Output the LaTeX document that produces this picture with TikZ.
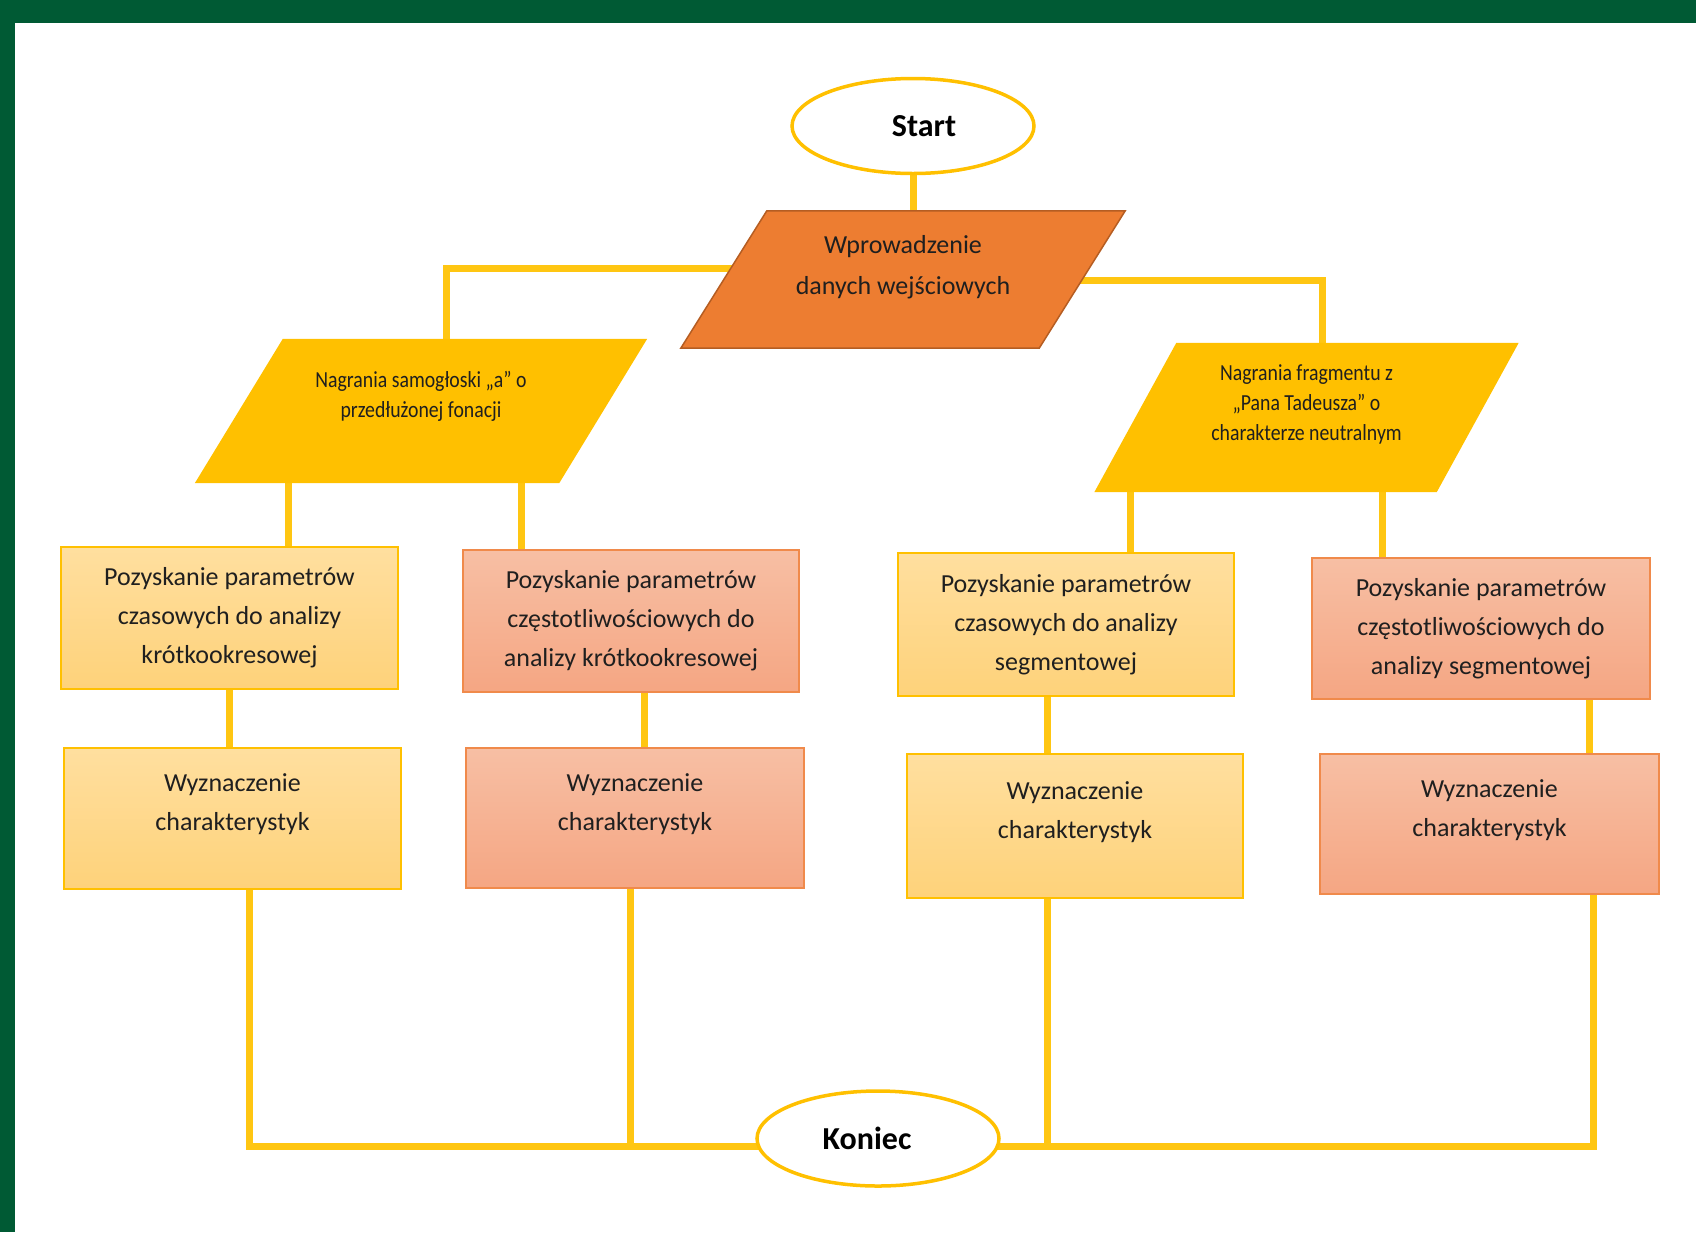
\documentclass[tikz,border=0pt]{standalone}
\usepackage{fontspec}
\setmainfont{Carlito}
\newfontfamily\narrowfont[FakeStretch=0.86]{Carlito}
\usetikzlibrary{shapes.geometric,backgrounds}

\definecolor{framegreen}{HTML}{005A34}
\definecolor{linegold}{HTML}{FFC612}
\definecolor{inputorange}{HTML}{ED7D31}
\definecolor{inputedge}{HTML}{B55D22}
\definecolor{recgold}{HTML}{FFC000}
\definecolor{goldtop}{HTML}{FFDF9F}
\definecolor{goldbot}{HTML}{FED27A}
\definecolor{salmontop}{HTML}{F7BFA4}
\definecolor{salmonbot}{HTML}{F5A683}
\definecolor{salmonedge}{HTML}{F08A4B}

\tikzset{
  terminal/.style={ellipse, draw=recgold, line width=3.5pt, fill=white, minimum width=242pt,
    minimum height=95pt, font=\fontsize{32}{36}\selectfont\bfseries},
  iobox/.style={rectangle, inner sep=0pt, align=center, text=black!88},
  inputbox/.style={iobox, font=\fontsize{26}{41}\selectfont},
  recbox/.style={iobox, font=\narrowfont\fontsize{23}{30}\selectfont},
  procbox/.style={rectangle, minimum width=337pt, minimum height=142pt, line width=2pt, align=center,
    inner sep=0pt, text=black!88, font=\fontsize{26}{39}\selectfont},
  goldbox/.style={procbox, top color=goldtop, bottom color=goldbot, draw=recgold},
  salmonbox/.style={procbox, top color=salmontop, bottom color=salmonbot, draw=salmonedge},
  charbox/.style={text depth=32pt},
  flow/.style={draw=linegold, line width=7pt}
}

\begin{document}
\begin{tikzpicture}[x=1pt,y=-1pt]
  \useasboundingbox (0,0) rectangle (1696,1232);
  \fill[framegreen] (0,0) rectangle (1696,23);
  \fill[framegreen] (0,0) rectangle (15,1232);

  \node[terminal] (start) at (913,126) {\hspace*{22pt}Start};
  \node[inputbox, minimum width=358pt, minimum height=137pt, text depth=30pt] (wpr) at (903,279.5)
    {Wprowadzenie\\danych wejściowych};
  \node[recbox, minimum width=364pt, minimum height=144pt, text depth=33pt] (inL) at (421,411)
    {Nagrania samogłoski „a” o\\przedłużonej fonacji};
  \node[recbox, minimum width=342pt, minimum height=149pt, text depth=30pt] (inR) at (1306.5,417.5)
    {Nagrania fragmentu z\\„Pana Tadeusza” o\\charakterze neutralnym};

  \node[goldbox] (tShort) at (229.5,618) {Pozyskanie parametrów\\czasowych do analizy\\krótkookresowej};
  \node[salmonbox, minimum width=336pt] (fShort) at (631,621) {Pozyskanie parametrów\\częstotliwościowych do\\analizy krótkookresowej};
  \node[goldbox, minimum width=336pt, minimum height=143pt] (tSeg) at (1066,624.5) {Pozyskanie parametrów\\czasowych do analizy\\segmentowej};
  \node[salmonbox, minimum width=338pt, minimum height=141pt] (fSeg) at (1481,628.5) {Pozyskanie parametrów\\częstotliwościowych do\\analizy segmentowej};

  \node[goldbox, charbox, minimum height=141pt] (cA) at (232.5,818.5) {Wyznaczenie\\charakterystyk};
  \node[salmonbox, charbox, minimum width=338pt, minimum height=140pt] (cB) at (635,818) {Wyznaczenie\\charakterystyk};
  \node[goldbox, charbox, minimum width=336pt, minimum height=144pt] (cC) at (1075,826) {Wyznaczenie\\charakterystyk};
  \node[salmonbox, charbox, minimum width=339pt, minimum height=140pt] (cD) at (1489.5,824) {Wyznaczenie\\charakterystyk};

  \node[terminal] (koniec) at (878,1138.5) {Koniec\hspace*{22pt}};

  \begin{pgfonlayer}{background}
    \draw[flow] (start.south) -- (start.south |- wpr.north);
    \draw[flow] ([yshift=11pt]wpr.center) -| ([xshift=25pt]inL.north);
    \draw[flow] ([yshift=-0.5pt]wpr.center) -| ([xshift=15.5pt]inR.north);
    \draw[flow] ([xshift=-133pt]inL.south) -- ([xshift=58.5pt]tShort.north);
    \draw[flow] ([xshift=100pt]inL.south) -- ([xshift=-110pt]fShort.north);
    \draw[flow] ([xshift=-176.5pt]inR.south) -- ([xshift=64pt]tSeg.north);
    \draw[flow] ([xshift=75.5pt]inR.south) -- ([xshift=-99pt]fSeg.north);
    \draw[flow] (tShort.south) -- (tShort.south |- cA.north);
    \draw[flow] ([xshift=13pt]fShort.south) -- ([xshift=9pt]cB.north);
    \draw[flow] ([xshift=-19pt]tSeg.south) -- ([xshift=-28pt]cC.north);
    \draw[flow] ([xshift=108pt]fSeg.south) -- ([xshift=99.5pt]cD.north);
    \draw[flow] ([xshift=16.5pt]cA.south) |- ([yshift=-8pt]koniec.center);
    \draw[flow] ([xshift=-5pt]cB.south) |- ([yshift=-8pt]koniec.center);
    \draw[flow] ([xshift=-28pt]cC.south) |- ([yshift=-8pt]koniec.center);
    \draw[flow] ([xshift=103.5pt]cD.south) |- ([yshift=-8pt]koniec.center);

    \filldraw[fill=inputorange, draw=inputedge, line width=1.5pt]
      ([xshift=43pt]wpr.north west) -- ([xshift=43pt]wpr.north east)
      -- ([xshift=-43pt]wpr.south east) -- ([xshift=-43pt]wpr.south west) -- cycle;
    \fill[recgold] ([xshift=44pt]inL.north west) -- ([xshift=44pt]inL.north east)
      -- ([xshift=-44pt]inL.south east) -- ([xshift=-44pt]inL.south west) -- cycle;
    \fill[recgold] ([xshift=41pt]inR.north west) -- ([xshift=41pt]inR.north east)
      -- ([xshift=-41pt]inR.south east) -- ([xshift=-41pt]inR.south west) -- cycle;
  \end{pgfonlayer}
\end{tikzpicture}
\end{document}
